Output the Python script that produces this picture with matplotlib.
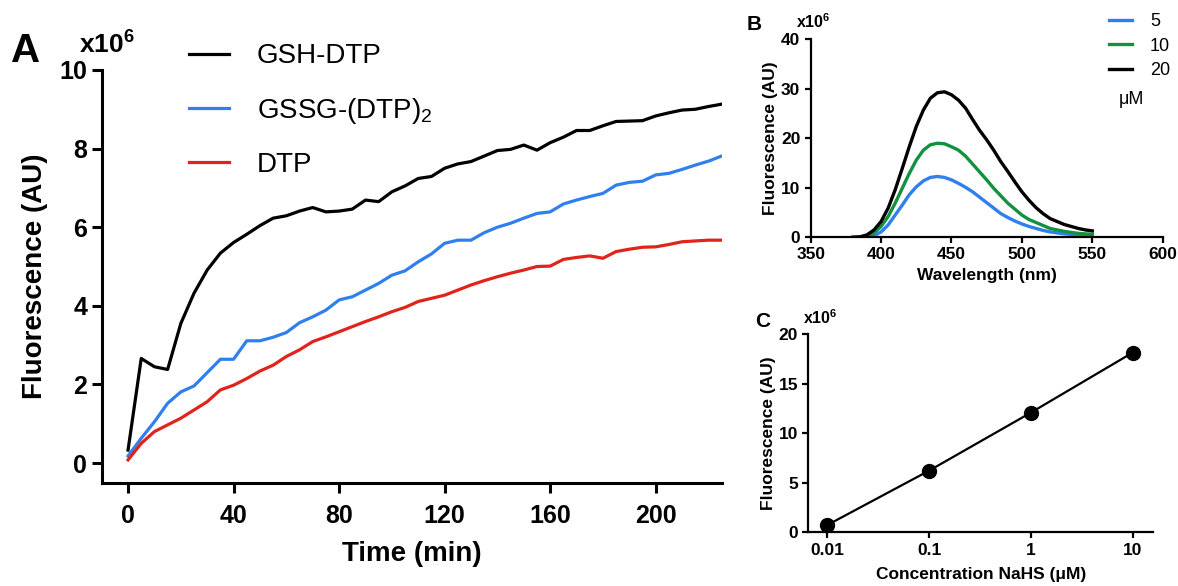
import matplotlib
matplotlib.use("Agg")
import matplotlib.pyplot as plt

plt.rcParams['font.family'] = ['Liberation Sans', 'DejaVu Sans']
plt.rcParams['mathtext.fontset'] = 'custom'
plt.rcParams['mathtext.rm'] = 'Liberation Sans'
plt.rcParams['mathtext.bf'] = 'Liberation Sans:bold'
plt.rcParams['mathtext.default'] = 'regular'

# panel A - time course (x10^6 AU)
time_min = list(range(0, 226, 5))
gsh_dtp = [0.33, 2.66, 2.45, 2.38, 3.55, 4.32, 4.91, 5.34, 5.61, 5.82,
           6.04, 6.23, 6.29, 6.41, 6.50, 6.39, 6.41, 6.46, 6.69, 6.65,
           6.90, 7.05, 7.24, 7.29, 7.50, 7.61, 7.67, 7.81, 7.95, 7.98,
           8.09, 7.96, 8.15, 8.29, 8.46, 8.46, 8.58, 8.69, 8.70, 8.71,
           8.83, 8.91, 8.98, 9.00, 9.07, 9.13]
gssg_dtp2 = [0.18, 0.63, 1.05, 1.52, 1.81, 1.96, 2.30, 2.64, 2.64, 3.11,
             3.11, 3.20, 3.32, 3.57, 3.72, 3.89, 4.15, 4.23, 4.40, 4.57,
             4.78, 4.89, 5.12, 5.32, 5.59, 5.67, 5.67, 5.86, 6.00, 6.10,
             6.23, 6.35, 6.39, 6.59, 6.69, 6.78, 6.86, 7.07, 7.14, 7.17,
             7.33, 7.37, 7.47, 7.58, 7.68, 7.81]
dtp = [0.08, 0.50, 0.80, 0.97, 1.14, 1.35, 1.56, 1.86, 1.98, 2.15,
       2.34, 2.49, 2.71, 2.88, 3.09, 3.21, 3.34, 3.47, 3.60, 3.72,
       3.85, 3.96, 4.11, 4.19, 4.27, 4.40, 4.53, 4.64, 4.74, 4.83,
       4.91, 5.00, 5.01, 5.18, 5.23, 5.27, 5.21, 5.38, 5.44, 5.49,
       5.50, 5.56, 5.63, 5.65, 5.67, 5.67]

# panel B - emission spectra (x10^6 AU)
wavelength = list(range(380, 551, 5))
spec_5uM = [0.0, 0.0, 0.0, 0.3, 1.1, 2.5, 4.5, 6.5, 8.6, 10.2,
            11.4, 12.1, 12.3, 12.1, 11.6, 10.9, 10.1, 9.2, 8.1, 7.0,
            5.9, 4.8, 4.0, 3.3, 2.7, 2.2, 1.8, 1.4, 1.1, 0.9,
            0.7, 0.6, 0.5, 0.4, 0.3]
spec_10uM = [0.0, 0.0, 0.1, 0.9, 2.2, 4.2, 6.9, 9.9, 12.9, 15.6,
             17.6, 18.7, 19.0, 18.9, 18.3, 17.6, 16.4, 14.8, 13.2, 11.6,
             9.9, 8.4, 6.9, 5.7, 4.5, 3.6, 3.0, 2.4, 1.8, 1.5,
             1.2, 1.0, 0.8, 0.7, 0.6]
spec_20uM = [0.0, 0.1, 0.5, 1.5, 3.2, 5.9, 9.6, 13.9, 18.3, 22.4,
             25.7, 28.1, 29.2, 29.4, 28.8, 27.7, 26.1, 23.8, 21.6, 19.7,
             17.6, 15.3, 13.3, 11.2, 9.2, 7.5, 6.0, 4.8, 3.8, 3.2,
             2.6, 2.2, 1.8, 1.5, 1.3]

# panel C - concentration response
nahs_conc = [0.01, 0.1, 1, 10]
nahs_fluo = [0.74, 6.23, 12.09, 18.15]

black = '#000000'
blue = '#2f80ee'
red = '#e0241c'
green = '#12913f'

fig = plt.figure(figsize=(11.78, 5.86), dpi=100)

# ---- A ----
axA = fig.add_axes([0.0863, 0.1763, 0.5263, 0.7043])
axA.plot(time_min, gsh_dtp, color=black, lw=2.3, label='GSH-DTP')
axA.plot(time_min, gssg_dtp2, color=blue, lw=2.3, label='GSSG-(DTP)$_2$')
axA.plot(time_min, dtp, color=red, lw=2.3, label='DTP')
axA.set_xlim(-10, 225)
axA.set_ylim(-0.5, 10)
axA.set_xticks([0, 40, 80, 120, 160, 200])
axA.set_yticks([0, 2, 4, 6, 8, 10])
axA.set_xlabel('Time (min)', fontsize=20, fontweight='bold', labelpad=10)
axA.set_ylabel('Fluorescence (AU)', fontsize=20, fontweight='bold', labelpad=8)
axA.legend(loc='upper left', bbox_to_anchor=(0.1, 1.125), frameon=False,
           fontsize=20, handlelength=1.45, handletextpad=1.0, labelspacing=0.95)

# ---- B ----
axB = fig.add_axes([0.6882, 0.595, 0.2988, 0.3379])
axB.plot(wavelength, spec_5uM, color=blue, lw=2.4, label='5')
axB.plot(wavelength, spec_10uM, color=green, lw=2.4, label='10')
axB.plot(wavelength, spec_20uM, color=black, lw=2.4, label='20')
axB.set_xlim(350, 600)
axB.set_ylim(0, 40)
axB.set_xticks([350, 400, 450, 500, 550, 600])
axB.set_yticks([0, 10, 20, 30, 40])
axB.set_xlabel('Wavelength (nm)', fontsize=12.5, fontweight='bold', labelpad=4)
axB.set_ylabel('Fluorescence (AU)', fontsize=12.5, fontweight='bold', labelpad=2)
axB.legend(loc='upper left', bbox_to_anchor=(0.80, 1.215), frameon=False,
           fontsize=13, handlelength=1.3, handletextpad=1.0, labelspacing=0.42)
axB.text(0.875, 0.675, '\u03bcM', transform=axB.transAxes, fontsize=13)

# ---- C ----
axC = fig.add_axes([0.6862, 0.0916, 0.2929, 0.3379])
axC.plot(nahs_conc, nahs_fluo, color=black, lw=1.6, marker='o', ms=10)
axC.set_xscale('log')
axC.set_xlim(0.0065, 16)
axC.set_ylim(0, 20)
axC.set_xticks(nahs_conc)
axC.set_xticklabels(['0.01', '0.1', '1', '10'])
axC.minorticks_off()
axC.set_yticks([0, 5, 10, 15, 20])
axC.set_xlabel('Concentration NaHS (\u03bcM)', fontsize=12.5, fontweight='bold', labelpad=6)
axC.set_ylabel('Fluorescence (AU)', fontsize=12.5, fontweight='bold', labelpad=2)

for ax, lw, fs, tl, pd in [(axA, 2.2, 18, 7, 8), (axB, 1.6, 12.5, 4, 3), (axC, 1.6, 12.5, 4, 4)]:
    ax.spines['top'].set_visible(False)
    ax.spines['right'].set_visible(False)
    ax.spines['left'].set_linewidth(lw)
    ax.spines['bottom'].set_linewidth(lw)
    ax.tick_params(width=lw, length=tl, labelsize=fs, direction='out')
    ax.tick_params(axis='x', pad=pd)
    for lab in ax.get_xticklabels() + ax.get_yticklabels():
        lab.set_fontweight('bold')

# panel letters and scale factors
fig.text(0.009, 0.895, 'A', fontsize=29, fontweight='bold')
fig.text(0.067, 0.908, 'x10$^6$', fontsize=19, fontweight='bold')
fig.text(0.634, 0.948, 'B', fontsize=15, fontweight='bold')
fig.text(0.676, 0.953, 'x10$^6$', fontsize=11.5, fontweight='bold')
fig.text(0.641, 0.442, 'C', fontsize=15, fontweight='bold')
fig.text(0.682, 0.447, 'x10$^6$', fontsize=11.5, fontweight='bold')

fig.savefig('out.png', dpi=100)
